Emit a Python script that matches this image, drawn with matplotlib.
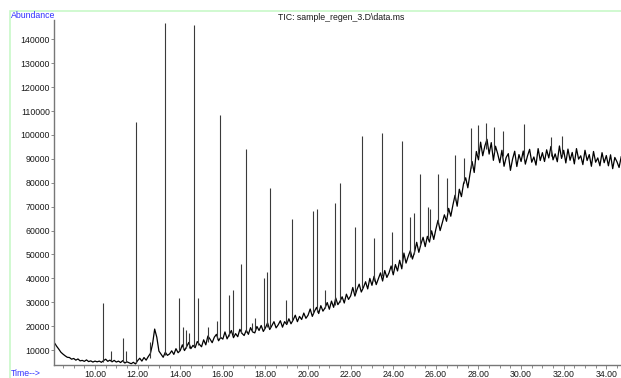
import numpy as np
import matplotlib
matplotlib.use("Agg")
import matplotlib.pyplot as plt
from matplotlib.patches import Rectangle

plt.rcParams['font.family'] = ['Liberation Sans', 'DejaVu Sans']

# ---- data ----
t_start = 8.1
t_step = 0.1
baseline = [
    13000, 11600, 10400, 9100, 8300, 7600, 7000, 6900, 6200, 6500,
    5800, 6300, 5500, 5700, 5300, 5900, 5200, 5500, 5000, 5400,
    5100, 5400, 4900, 5600, 6200, 5300, 5800, 5100, 5700, 5000,
    5400, 4800, 5600, 4600, 5100, 4700, 4300, 4900, 4200, 5600,
    6600, 5400, 6900, 5800, 7300, 8600, 12500, 18800, 15400, 9600,
    8300, 7000, 9100, 7800, 8400, 9700, 8200, 10600, 8900, 9800,
    12200, 9800, 11400, 13200, 10600, 12000, 11000, 13600, 12400, 11400,
    14300, 12200, 15900, 14600, 13100, 15400, 16600, 13900, 15300, 14600,
    17600, 14700, 16400, 18200, 15200, 16900, 15600, 18700, 17000, 16100,
    18300, 16600, 19400, 17600, 17200, 19900, 18200, 20300, 17800, 19300,
    21400, 18600, 20200, 21900, 19300, 20600, 22300, 19600, 21900, 20700,
    23100, 21000, 22600, 24600, 21900, 24100, 22800, 25500, 23300, 24600,
    27200, 24100, 26200, 27900, 25300, 28600, 26300, 27700, 29900, 27100,
    30500, 27900, 31800, 29000, 30400, 32300, 29700, 33400, 31200, 32700,
    36200, 32600, 35400, 37600, 34300, 36200, 38600, 35600, 40000, 37100,
    40900, 37400, 39800, 42300, 38900, 43300, 40400, 42300, 45200, 41500,
    45800, 43100, 47600, 44000, 50600, 46400, 49200, 51600, 48100, 51000,
    55100, 50900, 54400, 57200, 53300, 57600, 55200, 59900, 56300, 60600,
    64300, 60000, 63200, 66600, 63900, 69300, 66000, 70700, 74800, 70200,
    77300, 74200, 79700, 82100, 77900, 83600, 88900, 84300, 93100, 89600,
    97000, 91300, 95400, 98200, 92000, 96800, 89400, 95300, 92200, 88400,
    93600, 86900, 90600, 92200, 85200, 89900, 93200, 86800, 91800, 88900,
    93300, 87800, 91200, 94000, 88600, 90800, 87400, 94300, 89300, 92600,
    88900, 93800, 90400, 95200, 89600, 92100, 88800, 95400, 90200, 93600,
    88300, 94100, 89400, 92700, 87900, 94300, 89900, 91300, 87600, 93600,
    89300, 91800, 86900, 93100, 88600, 90400, 87100, 92600, 88400, 91400,
    87100, 91700, 85900, 90600, 88800, 86400, 90900,
]

peak_times = [10.38, 10.75, 11.30, 11.45, 11.92, 12.58, 13.28, 13.94, 14.13, 14.28,
              14.42, 14.65, 14.83, 15.31, 15.72, 15.85, 16.30, 16.48, 16.85, 17.07,
              17.35, 17.50, 17.92, 18.07, 18.20, 18.97, 19.25, 20.25, 20.42, 20.80,
              21.27, 21.50, 22.20, 22.53, 23.10, 23.47, 23.94, 24.41, 24.79, 24.97,
              25.26, 25.63, 25.72, 26.10, 26.53, 26.90, 27.32, 27.65, 27.97, 28.36,
              28.73, 29.15, 30.14, 31.41, 31.92]
peak_tops = [29500, 9600, 15000, 9500, 105500, 13500, 147000, 32000, 19500, 18500,
             17000, 146000, 32000, 19600, 22000, 108500, 33000, 35000, 46000, 94000,
             21500, 23500, 40000, 42500, 78000, 31000, 65000, 68000, 69000, 35000,
             71500, 80000, 61500, 99500, 57000, 101000, 59500, 97500, 65500, 67500,
             83500, 70000, 69000, 83500, 82000, 91500, 90500, 103000, 104000, 105000,
             103500, 101500, 104500, 99000, 99500]
peak_bases = [5200, 5500, 5000, 5000, 4800, 6500, 8000, 9500, 10500, 10800,
              11000, 11500, 12000, 13500, 14500, 15000, 16000, 16500, 17000, 17500,
              18000, 18500, 19000, 19500, 19500, 21500, 22500, 25500, 26000, 27500,
              29000, 30000, 34000, 36000, 39000, 41000, 43000, 45000, 49000, 50000,
              54000, 57000, 58000, 63000, 68000, 73000, 80000, 86000, 92000, 94000,
              93000, 91000, 90000, 91000, 91000]

y_ticks = [10000, 20000, 30000, 40000, 50000, 60000, 70000,
           80000, 90000, 100000, 110000, 120000, 130000, 140000]
x_major = [10, 12, 14, 16, 18, 20, 22, 24, 26, 28, 30, 32, 34]

title = "TIC: sample_regen_3.D\\data.ms"

# ---- figure ----
W, H = 621, 378
fig = plt.figure(figsize=(W / 100, H / 100), dpi=100)
fig.patch.set_facecolor('white')

# light green frame
fig.patches.append(Rectangle((10 / W, -0.1), 1.2, 1 - 11 / H + 0.1,
                             transform=fig.transFigure, fill=False,
                             edgecolor='#c8f8c8', linewidth=1.2))

ax = fig.add_axes([54 / W, (378 - 365) / H, 1 - 54 / W, (365 - 20) / H])
times = np.round(t_start + t_step * np.arange(len(baseline)), 3)
ax.plot(times, baseline, color='black', linewidth=0.9)
ax.vlines(peak_times, peak_bases, peak_tops, color='#3a3a3a', linewidth=0.8)

ax.set_xlim(8.075, 34.69)
ax.set_ylim(3770, 148100)

for s in ['top', 'right']:
    ax.spines[s].set_visible(False)
for s in ['left', 'bottom']:
    ax.spines[s].set_color('#777777')
    ax.spines[s].set_linewidth(1.0)

ax.set_yticks(y_ticks)
ax.set_yticklabels([str(v) for v in y_ticks])
ax.set_xticks(x_major)
ax.set_xticklabels([f"{v:.2f}" for v in x_major])
ax.set_xticks(np.arange(8.5, 34.6, 0.5), minor=True)
ax.tick_params(axis='y', direction='out', length=2, width=0.6, color='#777777',
               labelsize=6.3, labelcolor='#1a1a1a', pad=1)
ax.tick_params(axis='x', which='major', direction='out', length=3, width=0.6,
               color='#777777', labelsize=6.3, labelcolor='#1a1a1a', pad=0.5)
ax.tick_params(axis='x', which='minor', direction='out', length=2.5, width=0.6,
               color='#777777')

fig.text(11 / W, 1 - 16 / H, "Abundance", color='#3030ff', fontsize=6.3,
         ha='left', va='center')
fig.text(11 / W, 0.5 / H, "Time-->", color='#3030ff', fontsize=6.3,
         ha='left', va='bottom')
fig.text(341 / W, 1 - 17 / H, title, color='#1a1a1a', fontsize=6.3,
         ha='center', va='center')

fig.savefig("out.png", dpi=100)
